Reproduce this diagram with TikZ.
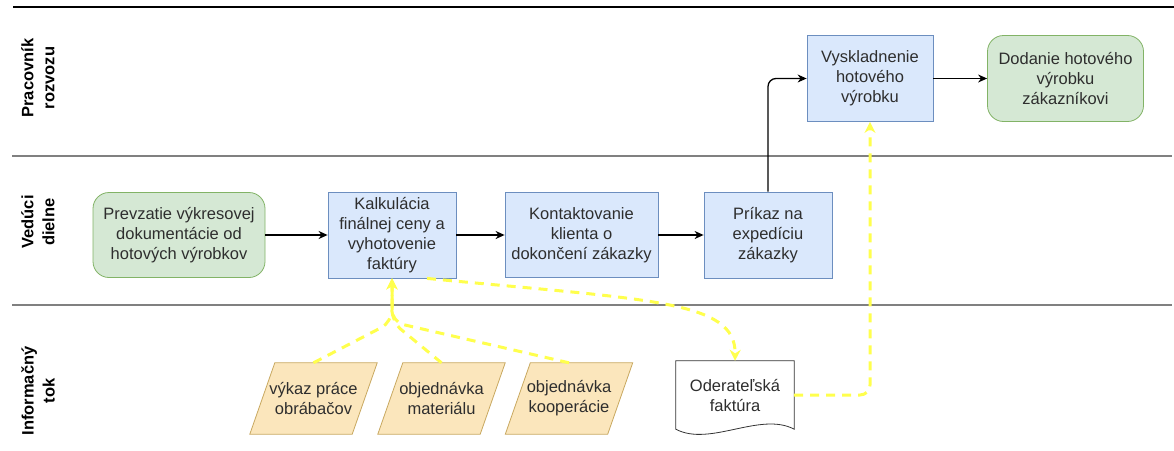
\documentclass[tikz,border=0pt]{standalone}
\usepackage{fontspec}
\setmainfont{Liberation Sans}
\usetikzlibrary{arrows.meta,backgrounds}
\definecolor{bluef}{HTML}{DAE8FC}
\definecolor{blued}{HTML}{6C8EBF}
\definecolor{greenf}{HTML}{D5E8D4}
\definecolor{greend}{HTML}{82B366}
\definecolor{paraf}{HTML}{FBE6BC}
\definecolor{parad}{HTML}{C8A860}
\definecolor{infoc}{HTML}{FFFF4D}
\definecolor{lanegray}{HTML}{808080}
\definecolor{textc}{HTML}{2E2E2E}
\begin{document}
\begin{tikzpicture}[x=1pt,y=-1pt,
  txt/.style={font=\fontsize{16.5}{20}\selectfont, text=textc, align=center, inner sep=1pt},
  proc/.style={txt, draw=blued, fill=bluef, line width=0.8pt},
  term/.style={txt, draw=greend, fill=greenf, line width=0.8pt, rounded corners=16pt},
  lane/.style={rotate=90, font=\bfseries\fontsize{16.5}{21}\selectfont, align=center, inner sep=0pt},
  parast/.style={draw=parad, fill=paraf, line width=0.8pt},
  docst/.style={draw=black!80, fill=white, line width=0.8pt},
  flow/.style={draw=black, line width=1.3pt, -{Stealth[length=9pt,width=8pt]}},
  info/.style={draw=infoc, line width=3pt, dash pattern=on 9pt off 7pt, -{Stealth[length=11pt,width=11pt,fill=infoc]}}
]
\useasboundingbox (0,0) rectangle (1174,450);

% lanes
\draw[black, line width=1.6pt] (13,7) -- (1174,7);
\draw[lanegray, line width=2.4pt] (12,156) -- (1172,156);
\draw[lanegray, line width=2.4pt] (12,305) -- (1172,305);

\node[lane] (lane1) at (38,78) {Pracovník\\rozvozu};
\node[lane] (lane2) at (38,222) {Vedúci\\dielne};
\node[lane] (lane3) at (38,391) {Informačný\\tok};

% process row
\node[term, minimum width=172pt, minimum height=85pt] (start) at (179,235) {Prevzatie výkresovej\\dokumentácie od\\hotových výrobkov};
\node[proc, minimum width=128pt, minimum height=86pt] (kalk) at (392,235) {Kalkulácia\\finálnej ceny a\\vyhotovenie\\faktúry};
\node[proc, minimum width=153pt, minimum height=85pt] (kont) at (581.5,235) {Kontaktovanie\\klienta o\\dokončení zákazky};
\node[proc, minimum width=128pt, minimum height=86pt] (prik) at (768,235) {Príkaz na\\expedíciu\\zákazky};
\node[proc, minimum width=126pt, minimum height=86pt] (vysk) at (870,78.5) {Vyskladnenie\\hotového\\výrobku};
\node[term, minimum width=156pt, minimum height=86pt] (dod) at (1065.5,78.5) {Dodanie hotového\\výrobku\\zákazníkovi};

% information flow
\node[txt, minimum width=127pt, minimum height=71pt] (p1) at (313.5,398.5) {výkaz práce\\obrábačov};
\node[txt, minimum width=127pt, minimum height=71pt] (p2) at (441.5,398.5) {objednávka\\materiálu};
\node[txt, minimum width=127pt, minimum height=71pt] (p3) at (569,398.5) {objednávka\\kooperácie};
\node[txt, minimum width=118pt, minimum height=68pt] (doc) at (735,395) {Oderateľská\\faktúra};

\begin{scope}[on background layer]
\foreach \n in {p1,p2,p3}
  \draw[parast] (\n.south west) -- ([xshift=-25pt]\n.south east) -- (\n.north east) -- ([xshift=25pt]\n.north west) -- cycle;
\draw[docst] (doc.north west) -- (doc.north east) -- (doc.south east)
  .. controls +(-34,-18) and +(34,18) .. (doc.south west) -- cycle;
\end{scope}

% black connectors
\draw[flow] (start) -- (kalk);
\draw[flow] (kalk) -- (kont);
\draw[flow] (kont) -- (prik);
\draw[flow, rounded corners=8pt] (prik.north) |- (vysk.west);
\draw[flow] (vysk) -- (dod);

% yellow dashed connectors
\coordinate (join) at (392,322);
\draw[info, rounded corners=12pt] (p1.north) -- (join) -- (kalk.south);
\draw[info, rounded corners=12pt] (p2.north) -- (join) -- (kalk.south);
\draw[info, rounded corners=12pt] (p3.north) -- (join) -- (kalk.south);
\draw[info] ([xshift=35pt]kalk.south) .. controls (650,300) and (736,300) .. (doc.north);
\draw[info, rounded corners=10pt] (doc.east) -| (vysk.south);
\end{tikzpicture}
\end{document}
